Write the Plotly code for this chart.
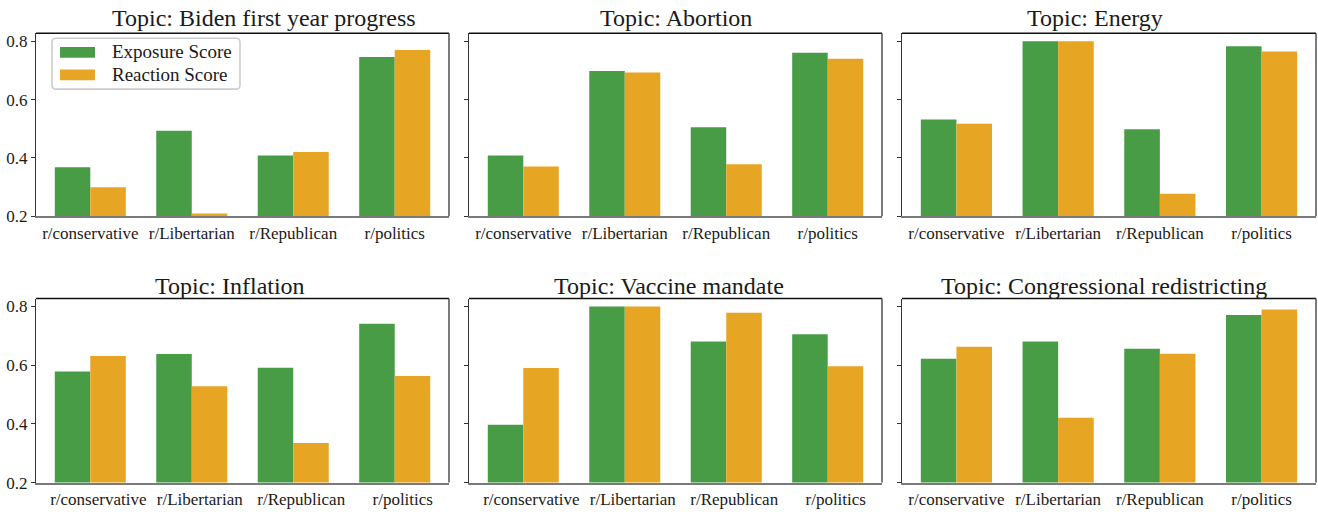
import plotly.graph_objects as go

W, H = 1318, 518

# ---- data -------------------------------------------------------------
subreddits = ["r/conservative", "r/Libertarian", "r/Republican", "r/politics"]
topics = [
    "Biden first year progress",
    "Abortion",
    "Energy",
    "Inflation",
    "Vaccine mandate",
    "Congressional redistricting",
]
series_names = ["Exposure Score", "Reaction Score"]

exposure_biden = [0.368, 0.493, 0.408, 0.746]
reaction_biden = [0.300, 0.210, 0.420, 0.770]
exposure_abortion = [0.408, 0.698, 0.505, 0.760]
reaction_abortion = [0.371, 0.693, 0.378, 0.740]
exposure_energy = [0.532, 0.800, 0.498, 0.783]
reaction_energy = [0.517, 0.800, 0.277, 0.765]
exposure_inflation = [0.578, 0.638, 0.591, 0.741]
reaction_inflation = [0.631, 0.528, 0.335, 0.563]
exposure_vaccine = [0.397, 0.800, 0.681, 0.705]
reaction_vaccine = [0.590, 0.800, 0.779, 0.596]
exposure_redistricting = [0.622, 0.681, 0.656, 0.771]
reaction_redistricting = [0.663, 0.421, 0.639, 0.790]

y_ticks = [0.2, 0.4, 0.6, 0.8]

panels = [
    (exposure_biden, reaction_biden),
    (exposure_abortion, reaction_abortion),
    (exposure_energy, reaction_energy),
    (exposure_inflation, reaction_inflation),
    (exposure_vaccine, reaction_vaccine),
    (exposure_redistricting, reaction_redistricting),
]

# ---- styling ----------------------------------------------------------
GREEN = "#489c46"
ORANGE = "#e7a524"
colors = [GREEN, ORANGE]
FONT = "Liberation Serif"
TEXT = "#1a1a1a"

# panel frames in pixels (left, right) and (top, bottom)
cols_px = [(36, 449), (469, 882), (902, 1316)]
rows_px = [(33, 220), (304, 492)]
title_cx = [264, 676, 1095, 230, 669, 1104]
title_cy = [17, 17, 17, 291, 291, 291]
label_shift = [0, 0, 0, 8, 8, 0]


def px_x(x):
    return x / W


def px_y(y):
    return 1 - y / H


fig = go.Figure()
shapes = []
annotations = []

for i, (exp_vals, rea_vals) in enumerate(panels):
    r, c = divmod(i, 3)
    sfx = "" if i == 0 else str(i + 1)
    xa, ya = "x" + sfx, "y" + sfx
    for name, vals, col in zip(series_names, (exp_vals, rea_vals), colors):
        fig.add_trace(
            go.Bar(
                x=subreddits,
                y=vals,
                name=name,
                marker=dict(color=col, line=dict(width=0)),
                xaxis=xa,
                yaxis=ya,
                showlegend=False,
                offsetgroup=name,
            )
        )

    (l, rgt), (t, b) = cols_px[c], rows_px[r]
    fig.layout["xaxis" + sfx] = dict(
        domain=[px_x(l), px_x(rgt)],
        anchor=ya,
        type="category",
        categoryorder="array",
        categoryarray=subreddits,
        range=[-0.535, 3.535],
        showgrid=False,
        zeroline=False,
        showline=True,
        linecolor="#7a7a7a",
        linewidth=1.6,
        ticks="",
        ticklabelshift=label_shift[i],
        tickfont=dict(family=FONT, size=17, color=TEXT),
    )
    fig.layout["yaxis" + sfx] = dict(
        domain=[px_y(b), px_y(t)],
        anchor=xa,
        range=[0.2, 0.827],
        tickvals=y_ticks,
        ticktext=[f"{v:.1f}" for v in y_ticks],
        showticklabels=(c == 0),
        showgrid=False,
        zeroline=False,
        showline=True,
        linecolor="#333333",
        linewidth=1.4,
        ticks="outside",
        ticklen=4,
        tickwidth=1,
        tickcolor="#333333",
        tickfont=dict(family=FONT, size=17, color=TEXT),
    )
    # top and right spines
    shapes.append(dict(type="line", xref=xa + " domain", yref=ya + " domain",
                       x0=0, x1=1, y0=1, y1=1,
                       line=dict(color="#111111", width=1.4)))
    shapes.append(dict(type="line", xref=xa + " domain", yref=ya + " domain",
                       x0=1, x1=1, y0=0, y1=1,
                       line=dict(color="#444444", width=1.4)))
    annotations.append(dict(
        text="Topic: " + topics[i],
        xref="paper", yref="paper",
        x=px_x(title_cx[i]), y=px_y(title_cy[i]),
        xanchor="center", yanchor="middle",
        showarrow=False,
        font=dict(family=FONT, size=24, color=TEXT),
    ))

# ---- legend box in the first panel -------------------------------------
bx0, bx1, by0, by1, rad = 52, 240, 38, 90, 4


def rounded_box(x0, x1, y0, y1, rr):
    X = lambda v: f"{px_x(v):.5f}"
    Y = lambda v: f"{px_y(v):.5f}"
    pts = [
        f"M{X(x0 + rr)},{Y(y0)}",
        f"L{X(x1 - rr)},{Y(y0)}",
        f"Q{X(x1)},{Y(y0)} {X(x1)},{Y(y0 + rr)}",
        f"L{X(x1)},{Y(y1 - rr)}",
        f"Q{X(x1)},{Y(y1)} {X(x1 - rr)},{Y(y1)}",
        f"L{X(x0 + rr)},{Y(y1)}",
        f"Q{X(x0)},{Y(y1)} {X(x0)},{Y(y1 - rr)}",
        f"L{X(x0)},{Y(y0 + rr)}",
        f"Q{X(x0)},{Y(y0)} {X(x0 + rr)},{Y(y0)}",
    ]
    return " ".join(pts) + " Z"


shapes.append(dict(type="path", xref="paper", yref="paper",
                   path=rounded_box(bx0, bx1, by0, by1, rad),
                   fillcolor="rgba(255,255,255,0.85)",
                   line=dict(color="#cccccc", width=1.6)))

swatch_rows = [(47, 58, 52), (70, 81, 75.5)]
for (sy0, sy1, ty), name, col in zip(swatch_rows, series_names, colors):
    shapes.append(dict(type="rect", xref="paper", yref="paper",
                       x0=px_x(60), x1=px_x(95), y0=px_y(sy1), y1=px_y(sy0),
                       fillcolor=col, line=dict(width=0)))
    annotations.append(dict(
        text=name, xref="paper", yref="paper",
        x=px_x(110), y=px_y(ty), xanchor="left", yanchor="middle",
        showarrow=False,
        font=dict(family=FONT, size=19, color=TEXT),
    ))

fig.update_layout(
    width=W,
    height=H,
    margin=dict(l=0, r=0, t=0, b=0),
    paper_bgcolor="white",
    plot_bgcolor="white",
    barmode="group",
    bargap=0.3,
    bargroupgap=0,
    showlegend=False,
    shapes=shapes,
    annotations=annotations,
    font=dict(family=FONT, color=TEXT),
)

fig.write_html("out.html")
